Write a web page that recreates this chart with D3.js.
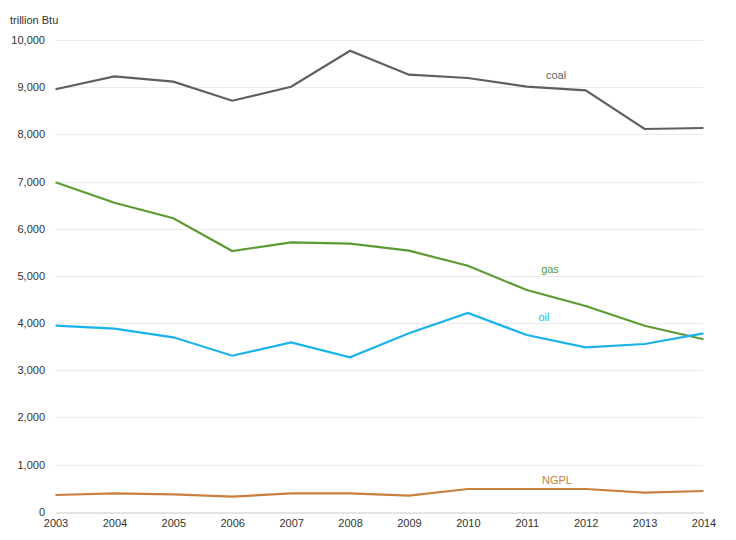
<!DOCTYPE html>
<html><head><meta charset="utf-8">
<script src="https://cdn.jsdelivr.net/npm/d3@7"></script>
<style>body{margin:0;background:#fff;}svg{display:block;font-family:"Liberation Sans",Arial,sans-serif;}</style>
</head><body><svg id="c" width="736" height="540"></svg>
<script>
const years = [2003,2004,2005,2006,2007,2008,2009,2010,2011,2012,2013,2014];
const coal = [8955,9230,9116,8713,9010,9773,9264,9194,9010,8933,8113,8134];
const gas  = [6983,6551,6220,5527,5711,5682,5533,5215,4700,4361,3943,3655];
const oil  = [3943,3880,3697,3307,3591,3273,3782,4212,3746,3485,3555,3782];
const ngpl = [354,390,369,318,390,390,340,481,481,481,403,439];
const yTicks = [0,1000,2000,3000,4000,5000,6000,7000,8000,9000,10000];
const unitLabel = "trillion Btu";

const series = [
  {name:"coal", values:coal, color:"#5f5f5f", lx:556, ly:79},
  {name:"gas", values:gas, color:"#5d9a34", lx:550, ly:273},
  {name:"oil", values:oil, color:"#1ab2ec", lx:544, ly:321},
  {name:"NGPL", values:ngpl, color:"#c97f3d", lx:557, ly:484}
];

const svg = d3.select("#c");
const x = d3.scaleLinear().domain([2003,2014]).range([55.5,703.5]);
const y = d3.scaleLinear().domain([0,10000]).range([511.7,40]);

// gridlines
svg.append("g").selectAll("line").data(yTicks.filter(d=>d>0)).join("line")
  .attr("x1",x(2003)).attr("x2",x(2014))
  .attr("y1",d=>Math.round(y(d))+0.5).attr("y2",d=>Math.round(y(d))+0.5)
  .attr("stroke","#ebebeb").attr("stroke-width",1);

// y axis labels
const yAxis = d3.axisLeft(y).tickValues(yTicks).tickSize(0).tickPadding(0)
  .tickFormat(d3.format(","));
const gy = svg.append("g").attr("transform","translate(45,0)").call(yAxis);
gy.select(".domain").remove();
gy.selectAll("text").attr("font-size",11).attr("fill","#333").attr("font-family","Liberation Sans, Arial, sans-serif");

// x axis
const xAxis = d3.axisBottom(x).tickValues(years).tickSize(0).tickPadding(7).tickFormat(d3.format("d"));
const gx = svg.append("g").attr("transform",`translate(0,${Math.round(y(0))+0.5})`).call(xAxis);
gx.select(".domain").attr("stroke","#c8c8c8");
gx.selectAll("text").attr("font-size",11).attr("fill","#333").attr("font-family","Liberation Sans, Arial, sans-serif");

// unit label
svg.append("text").attr("x",10).attr("y",24).attr("font-size",11).attr("fill","#333").text(unitLabel);

// lines
const line = d3.line().x((d,i)=>x(years[i])).y(d=>y(d));
svg.append("g").selectAll("path").data(series).join("path")
  .attr("d",d=>line(d.values)).attr("fill","none")
  .attr("stroke",d=>d.color).attr("stroke-width",2.2).attr("stroke-linejoin","miter");

svg.append("g").selectAll("text").data(series).join("text")
  .attr("x",d=>d.lx).attr("y",d=>d.ly).attr("text-anchor","middle")
  .attr("font-size",11).attr("fill",d=>d.color).text(d=>d.name);
</script></body></html>
